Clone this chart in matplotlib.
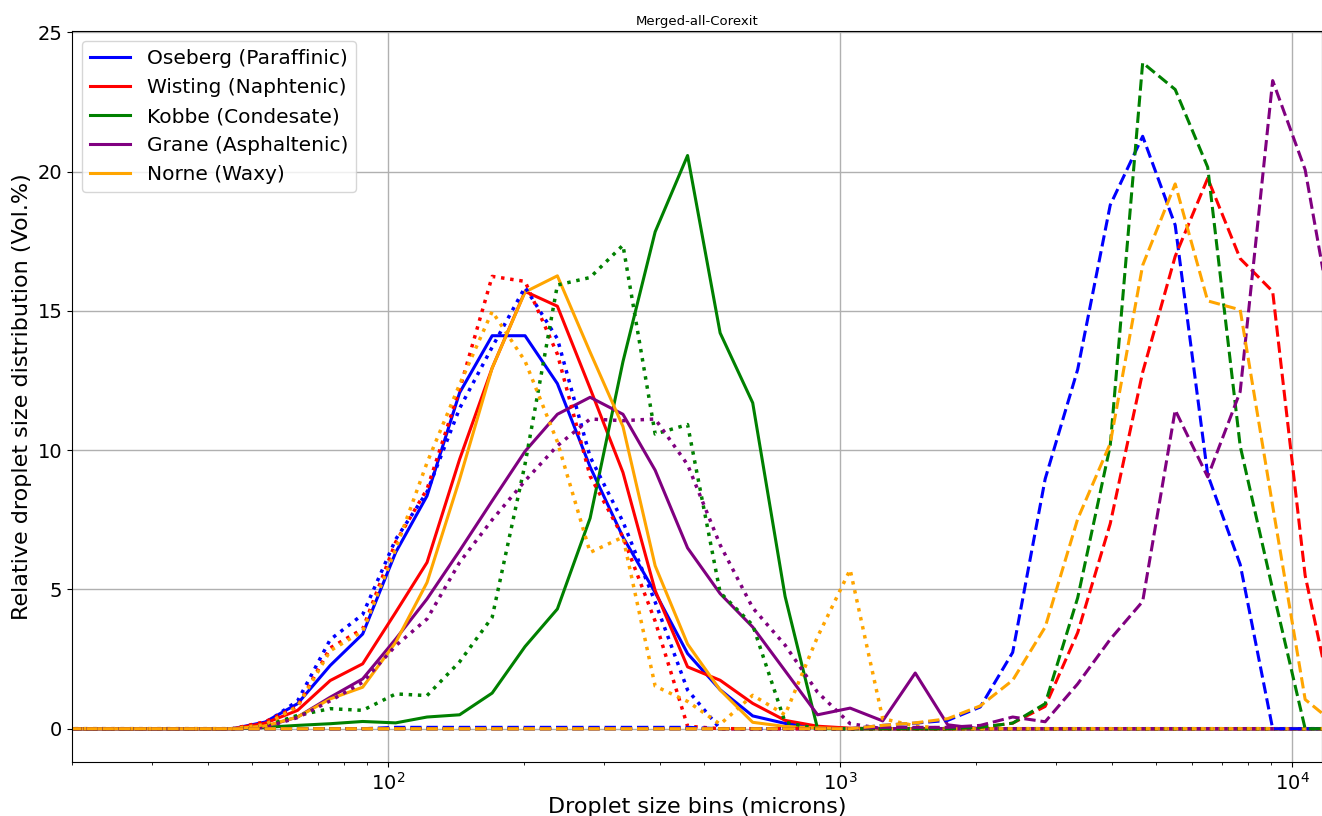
import numpy as np
import matplotlib
matplotlib.use("Agg")
import matplotlib.pyplot as plt

# LISST-style size bins (microns)
bins = [16.8, 19.8, 23.4, 27.6, 32.5, 38.4, 45.3, 53.5, 63.1, 74.5, 87.9, 104, 122,
        144, 170, 201, 237, 280, 331, 390, 460, 543, 641, 756, 892, 1053, 1243,
        1467, 1731, 2043, 2410, 2844, 3356, 3961, 4673, 5515, 6508, 7679, 9061,
        10692, 12617]

oils = ["Oseberg (Paraffinic)", "Wisting (Naphtenic)", "Kobbe (Condesate)",
        "Grane (Asphaltenic)", "Norne (Waxy)"]
colors = ["blue", "red", "green", "purple", "orange"]

# solid lines
oseberg_solid = [0]*7 + [0.24, 0.90, 2.27, 3.40, 6.33, 8.36, 12.06, 14.11, 14.11, 12.39,
                         9.40, 6.88, 4.89, 2.70, 1.40, 0.46, 0.19, 0.05] + [0]*16
wisting_solid = [0]*7 + [0.20, 0.66, 1.73, 2.33, 4.18, 5.97, 9.67, 12.95, 15.70, 15.17,
                         12.22, 9.20, 4.96, 2.22, 1.74, 0.91, 0.30, 0.09, 0.02] + [0]*15
kobbe_solid = [0]*7 + [0.05, 0.12, 0.18, 0.26, 0.21, 0.42, 0.50, 1.28, 2.95, 4.30,
                       7.56, 13.18, 17.84, 20.58, 14.21, 11.70, 4.75, 0.0] + [0]*16
grane_solid = [0]*7 + [0.08, 0.42, 1.13, 1.79, 3.22, 4.66, 6.39, 8.18, 9.96, 11.29,
                       11.90, 11.29, 9.28, 6.49, 4.85, 3.65, 2.08, 0.50, 0.74, 0.28,
                       2.00, 0.14] + [0]*12
norne_solid = [0]*7 + [0.10, 0.42, 1.07, 1.49, 3.10, 5.25, 8.95, 12.95, 15.68, 16.26,
                       13.52, 10.85, 5.85, 3.04, 1.39, 0.23, 0.08, 0.03] + [0]*16

# dotted lines
oseberg_dot = [0]*7 + [0.20, 1.00, 3.20, 4.10, 6.80, 8.50, 11.50, 13.70, 15.85, 14.00,
                       9.76, 7.43, 4.55, 1.39] + [0]*20
wisting_dot = [0]*7 + [0.25, 0.80, 2.90, 3.58, 6.70, 8.60, 12.18, 16.24, 16.06, 13.45,
                       9.07, 6.88, 3.86, 0.09] + [0]*20
kobbe_dot = [0]*7 + [0.10, 0.48, 0.72, 0.66, 1.25, 1.19, 2.40, 4.00, 9.50, 15.93,
                     16.20, 17.36, 10.58, 10.92, 4.89, 3.72, 0.23] + [0]*17
grane_dot = [0]*7 + [0.05, 0.40, 1.00, 1.67, 2.98, 3.94, 5.97, 7.50, 8.90, 10.16,
                     11.12, 11.06, 11.12, 9.48, 6.60, 4.34, 3.00, 1.31, 0.18] + [0]*15
norne_dot = [0]*7 + [0.15, 0.80, 2.80, 3.50, 6.45, 9.55, 12.36, 14.98, 13.20, 10.30,
                     6.33, 6.88, 1.53, 0.98, 0.16, 1.20, 0.50, 3.30, 5.71, 0.36,
                     0.10] + [0]*13

# dashed lines
oseberg_dash = [0]*11 + [0.05]*10 + [0]*5 + [0.12, 0.20, 0.30, 0.78, 2.74, 8.97, 12.90,
                                             18.80, 21.27, 18.08, 9.12, 5.90, 0, 0, 0]
wisting_dash = [0]*29 + [0.05, 0.20, 0.80, 3.45, 7.36, 12.80, 16.96, 19.76, 16.88,
                         15.70, 5.50, 0]
kobbe_dash = [0]*29 + [0.05, 0.20, 0.90, 4.70, 10.16, 23.91, 22.95, 20.16, 10.15,
                       5.00, 0, 0]
grane_dash = [0]*26 + [0.05, 0.05, 0.05, 0.12, 0.42, 0.25, 1.61, 3.21, 4.57, 11.44,
                       9.04, 12.10, 23.27, 20.07, 13.50]
norne_dash = [0]*26 + [0.12, 0.21, 0.36, 0.82, 1.74, 3.65, 7.53, 10.24, 16.64, 19.56,
                       15.36, 15.04, 8.00, 1.05, 0.10]

solid = [oseberg_solid, wisting_solid, kobbe_solid, grane_solid, norne_solid]
dotted = [oseberg_dot, wisting_dot, kobbe_dot, grane_dot, norne_dot]
dashed = [oseberg_dash, wisting_dash, kobbe_dash, grane_dash, norne_dash]

fig = plt.figure(figsize=(13.22, 8.16), dpi=100)
ax = fig.add_axes([0.0545, 0.066, 0.9455, 0.896])

for name, c, ys in zip(oils, colors, solid):
    ax.plot(bins, ys, color=c, lw=2.2, label=name)
for c, ys in zip(colors, dotted):
    ax.plot(bins, ys, color=c, lw=2.5, ls=":")
for c, ys in zip(colors, dashed):
    ax.plot(bins, ys, color=c, lw=2.2, ls="--")

ax.set_xscale("log")
ax.set_xlim(20, 11650)
ax.set_ylim(-1.2, 25.05)
ax.set_yticks([0, 5, 10, 15, 20, 25])
ax.grid(True, which="major", color="#b0b0b0", lw=1)
ax.tick_params(labelsize=14)
ax.set_xlabel("Droplet size bins (microns)", fontsize=16, labelpad=2)
ax.set_ylabel("Relative droplet size distribution (Vol.%)", fontsize=16)
ax.set_title("Merged-all-Corexit", fontsize=9.5, pad=4)
ax.legend(loc="upper left", fontsize=14.5)

fig.savefig("out.png", dpi=100)
